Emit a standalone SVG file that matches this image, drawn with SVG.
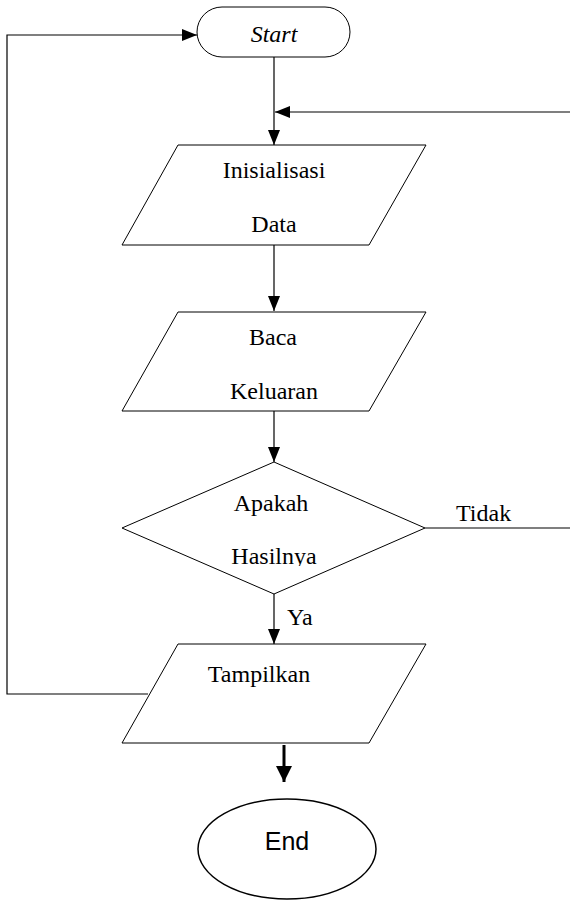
<svg xmlns="http://www.w3.org/2000/svg" width="570" height="901" viewBox="0 0 570 901">
<style>
.s{fill:#fff;stroke:#000;stroke-width:1}
.c{fill:none;stroke:#000;stroke-width:1.2}
.t{font-family:"Liberation Serif","Times New Roman",serif;font-size:24px;fill:#000}
.m{text-anchor:middle}
</style>
<defs>
<marker id="ah" markerUnits="userSpaceOnUse" markerWidth="16" markerHeight="14" refX="15" refY="6" orient="auto">
<path d="M0,0 L15,6 L0,12 Z" fill="#000"/>
</marker>
<marker id="ahb" markerUnits="userSpaceOnUse" markerWidth="18" markerHeight="18" refX="16" refY="8" orient="auto">
<path d="M0,0 L16,8 L0,16 Z" fill="#000"/>
</marker>
<clipPath id="clipH"><rect x="0" y="0" width="570" height="566"/></clipPath>
</defs>
<g id="connectors">
<path class="c" d="M274,57 V145" marker-end="url(#ah)"/>
<path class="c" d="M570,112 H275" marker-end="url(#ah)"/>
<path class="c" d="M274,245 V311" marker-end="url(#ah)"/>
<path class="c" d="M274,411 V462" marker-end="url(#ah)"/>
<path class="c" d="M425,528 H570"/>
<path class="c" d="M274,594 V644" marker-end="url(#ah)"/>
<path class="c" d="M148,694 H7 V35 H197" marker-end="url(#ah)"/>
<path fill="none" stroke="#000" stroke-width="3" d="M284,745 V782" marker-end="url(#ahb)"/>
<text class="t" x="456" y="521">Tidak</text>
<text class="t" x="287" y="625">Ya</text>
</g>
<g id="start">
<rect class="s" x="197" y="7" width="153" height="50" rx="25" ry="25"/>
<text class="t m" x="274" y="42" font-style="italic">Start</text>
</g>
<g id="inisialisasi">
<polygon class="s" points="178,145 426,145 369,245 122,245"/>
<text class="t m" x="274" y="178">Inisialisasi</text>
<text class="t m" x="274" y="232">Data</text>
</g>
<g id="baca">
<polygon class="s" points="178,312 426,312 369,411 122,411"/>
<text class="t m" x="273" y="345">Baca</text>
<text class="t m" x="274" y="399">Keluaran</text>
</g>
<g id="decision">
<polygon class="s" points="274,462 425,528 274,594 122,528"/>
<text class="t m" x="271" y="511">Apakah</text>
<text class="t m" x="274" y="564" clip-path="url(#clipH)">Hasilnya</text>
</g>
<g id="tampilkan">
<polygon class="s" points="178,644 426,644 369,743 122,743"/>
<text class="t m" x="259" y="682">Tampilkan</text>
</g>
<g id="end">
<ellipse cx="287" cy="849" rx="89" ry="50" fill="#fff" stroke="#000" stroke-width="1.5"/>
<text x="287" y="850" text-anchor="middle" font-family="Liberation Sans, Arial, sans-serif" font-size="25" fill="#000">End</text>
</g>
</svg>
